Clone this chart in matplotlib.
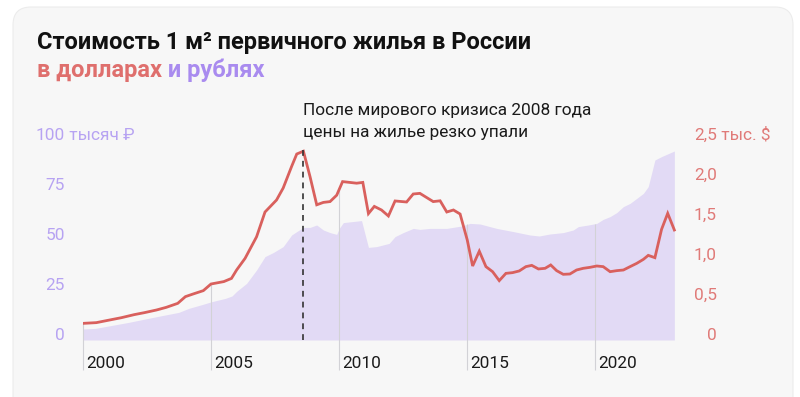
import numpy as np
import matplotlib.pyplot as plt
from matplotlib.patches import FancyBboxPatch
from matplotlib.transforms import IdentityTransform

plt.rcParams['font.family'] = ['Roboto', 'DejaVu Sans']

# price of 1 m2, thousand rubles (filled area)
rub_years = [2000.00, 2000.48, 2001.13, 2001.78, 2002.43, 2003.09, 2003.74, 2004.13,
             2004.65, 2005.04, 2005.56, 2005.82, 2006.00, 2006.39, 2006.78, 2007.11,
             2007.43, 2007.82, 2008.15, 2008.35, 2008.61, 2008.87, 2009.13, 2009.39,
             2009.65, 2009.91, 2010.01, 2010.17, 2010.88, 2011.15, 2011.47, 2011.96,
             2012.19, 2012.51, 2012.90, 2013.16, 2013.55, 2014.21, 2014.79, 2015.12,
             2015.51, 2016.16, 2016.81, 2017.46, 2017.82, 2018.24, 2018.76, 2019.15,
             2019.35, 2019.74, 2020.07, 2020.32, 2020.59, 2020.85, 2021.11, 2021.37,
             2021.63, 2021.89, 2022.08, 2022.34, 2022.60, 2023.10]
rub_values = [5.5, 5.8, 7.3, 8.8, 10.5, 12.2, 13.8, 15.8,
              17.7, 19.2, 20.8, 22.0, 24.3, 28.3, 35.0, 41.7,
              43.7, 46.7, 52.5, 54.2, 56.3, 56.3, 57.5, 55.0,
              53.7, 52.8, 55.8, 58.7, 59.7, 46.3, 46.7, 48.3,
              51.7, 53.7, 55.8, 55.3, 55.8, 55.8, 57.0, 58.3,
              58.0, 55.8, 54.2, 52.5, 52.0, 53.0, 53.7, 55.0,
              56.7, 57.5, 58.3, 60.3, 61.7, 63.7, 66.7, 68.3,
              70.8, 73.3, 76.7, 90.0, 91.7, 94.5]

# price of 1 m2, thousand dollars (red line)
usd_years = [2000.00, 2000.52, 2001.04, 2001.50, 2002.00, 2002.40, 2002.87, 2003.25,
             2003.70, 2004.00, 2004.30, 2004.70, 2005.00, 2005.50, 2005.80, 2006.00,
             2006.33, 2006.78, 2007.11, 2007.56, 2007.82, 2008.15, 2008.35, 2008.61,
             2008.87, 2009.13, 2009.39, 2009.65, 2009.91, 2010.14, 2010.69, 2010.93,
             2011.15, 2011.38, 2011.66, 2011.93, 2012.19, 2012.64, 2012.90, 2013.16,
             2013.68, 2013.95, 2014.21, 2014.47, 2014.73, 2015.01, 2015.22, 2015.48,
             2015.74, 2016.00, 2016.26, 2016.52, 2016.78, 2017.04, 2017.30, 2017.53,
             2017.79, 2018.05, 2018.27, 2018.50, 2018.76, 2019.02, 2019.28, 2019.54,
             2019.80, 2020.07, 2020.32, 2020.59, 2020.85, 2021.11, 2021.37, 2021.63,
             2021.89, 2022.08, 2022.34, 2022.60, 2022.84, 2023.10]
usd_values = [0.208, 0.217, 0.250, 0.279, 0.317, 0.342, 0.375, 0.408,
              0.458, 0.542, 0.575, 0.617, 0.700, 0.730, 0.770, 0.875,
              1.020, 1.290, 1.600, 1.750, 1.900, 2.170, 2.325, 2.360,
              2.040, 1.690, 1.720, 1.730, 1.810, 1.980, 1.960, 1.970,
              1.580, 1.670, 1.625, 1.550, 1.738, 1.725, 1.825, 1.833,
              1.730, 1.740, 1.600, 1.625, 1.575, 1.250, 0.925, 1.110,
              0.917, 0.854, 0.742, 0.833, 0.842, 0.863, 0.917, 0.933,
              0.888, 0.896, 0.938, 0.867, 0.821, 0.825, 0.875, 0.896,
              0.908, 0.925, 0.917, 0.854, 0.867, 0.875, 0.917, 0.958,
              1.008, 1.058, 1.029, 1.383, 1.583, 1.375]

year_ticks = [2000, 2005, 2010, 2015, 2020]
rub_ticks = [0, 25, 50, 75]
usd_ticks = [0, 0.5, 1.0, 1.5, 2.0]
usd_tick_labels = ['0', '0,5', '1,0', '1,5', '2,0']
crisis_year = 2008.61

RED = '#d9605d'
RED_TXT = '#e07a78'
PURPLE_TXT = '#b7a3f2'
FILL = '#e2daf5'
FS = 12.4

W, H = 800, 397
fig = plt.figure(figsize=(W / 100, H / 100), dpi=100)
fig.patch.set_facecolor('white')

card = FancyBboxPatch((13, -40), 780, H - 7 + 40, boxstyle='round,pad=0,rounding_size=18',
                      transform=IdentityTransform(), facecolor='#f7f7f7',
                      edgecolor='#ececec', linewidth=0.8, zorder=0)
fig.add_artist(card)

px_per_year = 25.6
x_right = 2000 + (680 - 83) / px_per_year
ax = fig.add_axes([83 / W, 1 - 340 / H, (680 - 83) / W, 200 / H])
ax.set_xlim(2000, x_right)
ax.set_ylim(0, 100)
ax.patch.set_alpha(0)
for s in ax.spines.values():
    s.set_visible(False)
ax.set_xticks([])
ax.set_yticks([])

ax.fill_between(rub_years, 0, rub_values, color=FILL, lw=0, zorder=1)

# year lines go up to the higher of the two series
for yr in year_ticks:
    top = max(np.interp(yr, rub_years, rub_values), np.interp(yr, usd_years, usd_values) * 40)
    ax.vlines(yr, -15, top, color='#d2d2d6', lw=0.8, clip_on=False, zorder=2)
    ax.text(yr + 3 / px_per_year, -11.5, str(yr), ha='left', va='center',
            fontsize=FS, color='#1a1a1a', clip_on=False)

x_left_lbl = 2000 + (65 - 83) / px_per_year
for v in rub_ticks:
    ax.text(x_left_lbl, v + 2.5, str(v), ha='right', va='center',
            fontsize=FS, color=PURPLE_TXT, clip_on=False)
ax.text(x_left_lbl, 102.5, '100', ha='right', va='center', fontsize=FS,
        color=PURPLE_TXT, clip_on=False)
ax.text(x_left_lbl, 102.5, ' тысяч ₽', ha='left', va='center', fontsize=FS,
        color=PURPLE_TXT, clip_on=False)

ax2 = ax.twinx()
ax2.set_ylim(0, 2.5)
ax2.set_xlim(2000, x_right)
for s in ax2.spines.values():
    s.set_visible(False)
ax2.set_yticks([])
ax2.plot(usd_years, usd_values, color=RED, lw=2, solid_joinstyle='miter', zorder=3)
ax2.vlines(crisis_year, 0, 2.375, color='#333333', lw=1.2, linestyles=(0, (3.5, 3)), zorder=4)

x_right_lbl = 2000 + (717 - 83) / px_per_year
for v, lbl in zip(usd_ticks, usd_tick_labels):
    ax2.text(x_right_lbl, v + 0.0625, lbl, ha='right', va='center',
             fontsize=FS, color=RED_TXT, clip_on=False)
ax2.text(x_right_lbl, 2.5625, '2,5', ha='right', va='center', fontsize=FS,
         color=RED_TXT, clip_on=False)
ax2.text(x_right_lbl, 2.5625, ' тыс. $', ha='left', va='center', fontsize=FS,
         color=RED_TXT, clip_on=False)

# titles and annotation
fig.text(37 / W, 1 - 42 / H, 'Стоимость 1 м² первичного жилья в России',
         fontsize=17, fontweight='bold', color='#111111', va='center')
sub1 = fig.text(37 / W, 1 - 70 / H, 'в долларах', fontsize=17, fontweight='bold',
                color='#df6f6d', va='center')
renderer = fig.canvas.get_renderer()
x_end = sub1.get_window_extent(renderer).x1
fig.text(x_end / W, 1 - 70 / H, ' и рублях', fontsize=17, fontweight='bold',
         color='#a98bef', va='center')
fig.text(303 / W, 1 - 110 / H, 'После мирового кризиса 2008 года',
         fontsize=FS, color='#1a1a1a', va='center')
fig.text(303 / W, 1 - 132 / H, 'цены на жилье резко упали',
         fontsize=FS, color='#1a1a1a', va='center')

fig.savefig('out.png', dpi=100)
